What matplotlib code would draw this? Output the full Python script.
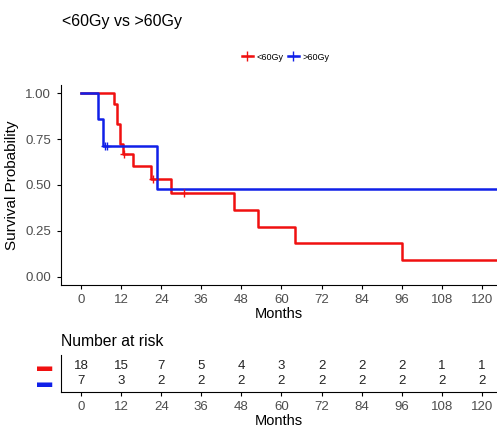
import matplotlib.pyplot as plt
from matplotlib.lines import Line2D

plt.rcParams['font.family'] = ['Liberation Sans', 'DejaVu Sans']

groups = ['<60Gy', '>60Gy']
colors = ['#f01010', '#1020e8']

red_times = [0, 10.0, 10.9, 11.7, 12.6, 15.7, 20.9, 26.8, 45.9, 52.9, 64.0, 96.0, 130]
red_surv = [1.0, 0.944, 0.833, 0.722, 0.667, 0.606, 0.533, 0.455, 0.364, 0.273, 0.182, 0.091, 0.091]
red_cens_t = [12.9, 21.6, 30.8]
red_cens_s = [0.667, 0.533, 0.455]

blue_times = [0, 5.0, 6.7, 22.8, 130]
blue_surv = [1.0, 0.857, 0.714, 0.476, 0.476]
blue_cens_t = [7.2, 7.9]
blue_cens_s = [0.714, 0.714]

risk_times = [0, 12, 24, 36, 48, 60, 72, 84, 96, 108, 120]
risk_red = [18, 15, 7, 5, 4, 3, 2, 2, 2, 1, 1]
risk_blue = [7, 3, 2, 2, 2, 2, 2, 2, 2, 2, 2]

xlim = (-6, 124.5)
gray = '#4d4d4d'

fig = plt.figure(figsize=(4.97, 4.29), dpi=100)

ax = fig.add_axes([0.1227, 0.3357, 0.8773, 0.4662])
ax.step(red_times, red_surv, where='post', color=colors[0], lw=1.8)
ax.step(blue_times, blue_surv, where='post', color=colors[1], lw=1.8)
ax.plot(red_cens_t, red_cens_s, '+', color=colors[0], ms=6, mew=1.0)
ax.plot(blue_cens_t, blue_cens_s, '+', color=colors[1], ms=6, mew=1.0)
ax.set_xlim(*xlim)
ax.set_ylim(-0.045, 1.045)
ax.set_xticks(risk_times)
ax.set_yticks([0, 0.25, 0.5, 0.75, 1.0])
ax.set_yticklabels(['0.00', '0.25', '0.50', '0.75', '1.00'])
ax.tick_params(labelsize=9.5, colors='black', labelcolor=gray, length=3, width=0.8)
ax.tick_params(axis='y', pad=4)
ax.spines['top'].set_visible(False)
ax.spines['right'].set_visible(False)
ax.set_xlabel('Months', fontsize=10.5, labelpad=1)
ax.set_ylabel('Survival Probability', fontsize=11)
ax.yaxis.set_label_coords(-0.096, 0.5)

fig.text(0.125, 0.949, '<60Gy vs >60Gy', fontsize=11.5, va='center')

handles = [Line2D([], [], color=c, lw=1.8, marker='+', ms=7, mew=1.0) for c in colors]
fig.legend(handles, groups, loc='center', bbox_to_anchor=(0.575, 0.867), ncol=2,
           frameon=False, fontsize=6.5, handlelength=1.3, handletextpad=0.4,
           columnspacing=0.4)

tab = fig.add_axes([0.1227, 0.0862, 0.8773, 0.0863])
for x, r, b in zip(risk_times, risk_red, risk_blue):
    tab.text(x, 2, str(r), ha='center', va='center', fontsize=9.5, color='#222222')
    tab.text(x, 1, str(b), ha='center', va='center', fontsize=9.5, color='#222222')
tab.set_xlim(*xlim)
tab.set_ylim(0.27, 2.73)
tab.set_xticks(risk_times)
tab.set_yticks([2, 1])
tab.set_yticklabels(['▬', '▬'], fontsize=11)
for lbl, c in zip(tab.get_yticklabels(), colors):
    lbl.set_color(c)
tab.tick_params(axis='y', length=0, pad=6)
tab.tick_params(axis='x', labelsize=9.5, labelcolor=gray, length=3, width=0.8)
tab.spines['top'].set_visible(False)
tab.spines['right'].set_visible(False)
tab.set_xlabel('Months', fontsize=10.5, labelpad=1)
fig.text(0.1227, 0.203, 'Number at risk', fontsize=11.3, va='center')

fig.savefig('out.png', dpi=100)
